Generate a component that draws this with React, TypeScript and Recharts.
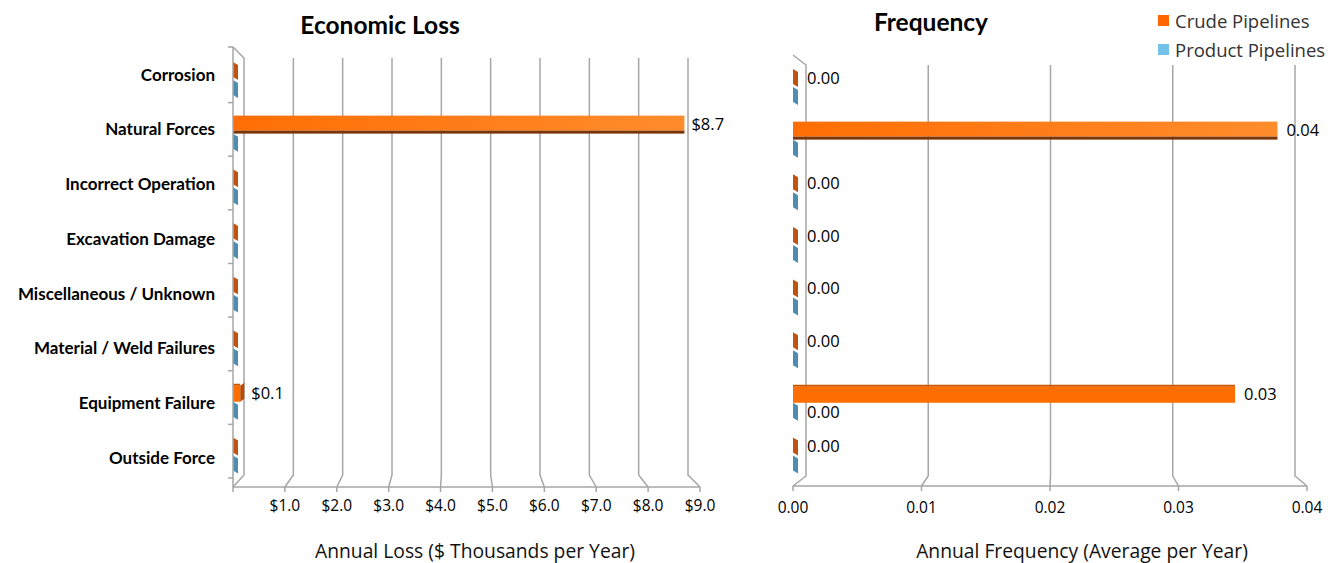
import React from 'react';
import { BarChart, Bar, XAxis, YAxis, CartesianGrid, LabelList } from 'recharts';

const categories = [
  'Corrosion',
  'Natural Forces',
  'Incorrect Operation',
  'Excavation Damage',
  'Miscellaneous / Unknown',
  'Material / Weld Failures',
  'Equipment Failure',
  'Outside Force',
];
const lossCrude = [0, 8.7, 0, 0, 0, 0, 0.14, 0];
const lossProduct = [0, 0, 0, 0, 0, 0, 0, 0];
const freqCrude = [0, 0.0377, 0, 0, 0, 0, 0.0344, 0];
const freqProduct = [0, 0, 0, 0, 0, 0, 0, 0];
const freqProductLabelShown = [false, false, false, false, false, false, true, false];
const lossTicks = [0, 1, 2, 3, 4, 5, 6, 7, 8, 9];
const freqTicks = [0, 0.01, 0.02, 0.03, 0.04];

const BOLD_FONT = 'Lato, "Open Sans", sans-serif';
const FONT = '"Open Sans", "Noto Sans", sans-serif';

const lossData = categories.map((c, i) => ({ category: c, crude: lossCrude[i], product: lossProduct[i] }));
const freqData = categories.map((c, i) => ({
  category: c,
  crude: freqCrude[i],
  product: freqProduct[i],
  showProd: freqProductLabelShown[i],
}));

const GRID = '#A6A6A6';

type G = { left: number; right: number; d0: number; d1: number; topDy: number; botDy: number };
const LG: G = { left: 233, right: 700, d0: 11, d1: -12, topDy: 11, botDy: 12 };
const RG: G = { left: 73, right: 587, d0: 13, d1: -12, topDy: 10, botDy: 10 };

const makeGrid = (g: G) => (props: any) => {
  const x = props.x1;
  const top = props.y1;
  const bottom = props.y2;
  const t = (x - g.left) / (g.right - g.left);
  const off = g.d0 + (g.d1 - g.d0) * t;
  let d = `M${x + off},${top + g.topDy} L${x + off},${bottom - g.botDy} L${x},${bottom}`;
  if (Math.abs(x - g.left) < 1) {
    d = `M${x},${top} L${x + off},${top + g.topDy} L${x + off},${bottom - g.botDy} L${x},${bottom}`;
  }
  return <path key={props.key} d={d} stroke={GRID} strokeWidth={1.5} fill="none" />;
};

const CrudeShape = (props: any) => {
  const { x, y, width, height, index } = props;
  if (width <= 6) {
    const w = 5;
    return (
      <polygon
        points={`${x},${y} ${x + w},${y + 3} ${x + w},${y + height} ${x},${y + height - 3}`}
        fill="#C2530F"
      />
    );
  }
  const upper = index <= 3;
  const id = `cg-${index}-${Math.round(x)}-${Math.round(y)}`;
  return (
    <g>
      <defs>
        <linearGradient id={id} x1="0" y1="0" x2="1" y2="0">
          <stop offset="0%" stopColor="#FF6E05" />
          <stop offset="100%" stopColor="#FF8C2C" />
        </linearGradient>
      </defs>
      {upper ? (
        <>
          <rect x={x} y={y} width={width} height={height - 3} fill={`url(#${id})`} />
          <rect x={x} y={y + height - 3} width={width} height={3} fill="#7A3508" />
        </>
      ) : (
        <>
          <rect x={x} y={y} width={width} height={2} fill="#C95400" />
          <rect x={x} y={y + 2} width={width} height={height - 2} fill="#FF6E00" />
        </>
      )}
      {width < 100 && (
        <polygon
          points={`${x + width},${y + 2} ${x + width + 4},${y - 1} ${x + width + 4},${y + height - 3} ${x + width},${y + height}`}
          fill="#B84A05"
        />
      )}
    </g>
  );
};

const ProductShape = (props: any) => {
  const { x, y, height } = props;
  const w = 5;
  return (
    <polygon
      points={`${x},${y} ${x + w},${y + 3} ${x + w},${y + height} ${x},${y + height - 3}`}
      fill="#4E8DB2"
    />
  );
};

const CategoryTick = (props: any) => {
  const { x, y, payload, index } = props;
  const band = 53.6;
  return (
    <g>
      <text
        x={x - 18}
        y={y - 5 + 1.1 * index}
        dy="0.35em"
        textAnchor="end"
        fontFamily={BOLD_FONT}
        fontSize={17}
        fontWeight={700}
        fill="#000"
      >
        {payload.value}
      </text>
      <line x1={x - 5} x2={x} y1={y + band / 2 - 4} y2={y + band / 2 - 4} stroke={GRID} strokeWidth={1.5} />
      {index === 0 && <line x1={x - 5} x2={x} y1={y - band / 2 - 6} y2={y - band / 2 - 6} stroke={GRID} strokeWidth={1.5} />}
    </g>
  );
};

const LABEL_SIZE = 16.5;

const lossLabel = (props: any) => {
  const { x, y, width, height, value } = props;
  if (!value) return null;
  const extra = width < 100 ? 4 : 0;
  return (
    <text x={x + width + extra + 7} y={y + height / 2} dy="0.35em" fontFamily={FONT} fontSize={LABEL_SIZE} fill="#000">
      {`$${Number(value).toFixed(1)}`}
    </text>
  );
};

const freqCrudeLabel = (props: any) => {
  const { x, y, width, height, value } = props;
  const w = Math.max(width, 5);
  return (
    <text x={x + w + 9} y={y + height / 2} dy="0.35em" fontFamily={FONT} fontSize={LABEL_SIZE} fill="#000">
      {Number(value).toFixed(2)}
    </text>
  );
};

const freqProdLabel = (props: any) => {
  const { x, y, width, height, value, index } = props;
  if (!freqData[index]?.showProd) return null;
  const w = Math.max(width, 5);
  return (
    <text x={x + w + 9} y={y + height / 2} dy="0.35em" fontFamily={FONT} fontSize={LABEL_SIZE} fill="#000">
      {Number(value).toFixed(2)}
    </text>
  );
};

const tickStyle = { fontSize: 15.5, fill: '#000', fontFamily: FONT };

export default function App() {
  return (
    <div style={{ position: 'absolute', left: 0, top: 0, width: 1335, height: 563, background: '#fff', fontFamily: FONT }}>
      <div style={{ position: 'absolute', left: 230, width: 300, top: 9, textAlign: 'center', fontSize: 24.5, fontWeight: 700, lineHeight: '32px', fontFamily: BOLD_FONT }}>
        Economic Loss
      </div>
      <div style={{ position: 'absolute', left: 781, width: 300, top: 6, textAlign: 'center', fontSize: 24.5, fontWeight: 700, lineHeight: '32px', fontFamily: BOLD_FONT }}>
        Frequency
      </div>
      <div style={{ position: 'absolute', left: 225, width: 500, top: 537, textAlign: 'center', fontSize: 19.3, lineHeight: '28px', color: '#111' }}>
        Annual Loss ($ Thousands per Year)
      </div>
      <div style={{ position: 'absolute', left: 832, width: 500, top: 537, textAlign: 'center', fontSize: 19.3, lineHeight: '28px', color: '#111' }}>
        Annual Frequency (Average per Year)
      </div>
      <div style={{ position: 'absolute', left: 1158, top: 6, fontSize: 18.5, color: '#333', lineHeight: '29px', whiteSpace: 'nowrap' }}>
        <div style={{ display: 'flex', alignItems: 'center' }}>
          <span style={{ display: 'inline-block', width: 11, height: 11, background: '#FF6600', marginRight: 6 }} />
          Crude Pipelines
        </div>
        <div style={{ display: 'flex', alignItems: 'center' }}>
          <span style={{ display: 'inline-block', width: 11, height: 11, background: '#74C2EA', marginRight: 6 }} />
          Product Pipelines
        </div>
      </div>

      <div style={{ position: 'absolute', left: 0, top: 0 }}>
        <BarChart
          width={770}
          height={563}
          layout="vertical"
          data={lossData}
          margin={{ top: 47, right: 70, bottom: 46, left: 0 }}
          barGap={0}
          barSize={18}
        >
          <CartesianGrid horizontal={false} vertical={makeGrid(LG)} />
          <XAxis
            type="number"
            domain={[0, 9]}
            ticks={lossTicks}
            interval={0}
            tickFormatter={(v: number) => (v === 0 ? '' : `$${v.toFixed(1)}`)}
            axisLine={{ stroke: GRID, strokeWidth: 1.5 }}
            tickLine={{ stroke: GRID, strokeWidth: 1.5 }}
            tickSize={5}
            tickMargin={8}
            height={30}
            tick={tickStyle}
          />
          <YAxis
            type="category"
            dataKey="category"
            width={233}
            interval={0}
            axisLine={{ stroke: GRID, strokeWidth: 1.5 }}
            tickLine={false}
            tickSize={0}
            tickMargin={0}
            tick={<CategoryTick />}
            padding={{ top: 6, bottom: 5 }}
          />
          <Bar dataKey="crude" shape={<CrudeShape />} minPointSize={5} isAnimationActive={false}>
            <LabelList dataKey="crude" content={lossLabel} />
          </Bar>
          <Bar dataKey="product" shape={<ProductShape />} minPointSize={5} isAnimationActive={false} />
        </BarChart>
      </div>

      <div style={{ position: 'absolute', left: 720, top: 0 }}>
        <BarChart
          width={615}
          height={563}
          layout="vertical"
          data={freqData}
          margin={{ top: 55, right: 28, bottom: 47, left: 73 }}
          barGap={0}
          barSize={18}
        >
          <CartesianGrid horizontal={false} vertical={makeGrid(RG)} />
          <XAxis
            type="number"
            domain={[0, 0.04]}
            ticks={freqTicks}
            interval={0}
            tickFormatter={(v: number) => v.toFixed(2)}
            axisLine={{ stroke: GRID, strokeWidth: 1.5 }}
            tickLine={{ stroke: GRID, strokeWidth: 1.5 }}
            tickSize={5}
            tickMargin={11}
            height={30}
            tick={tickStyle}
          />
          <YAxis
            type="category"
            dataKey="category"
            width={0}
            interval={0}
            axisLine={{ stroke: GRID, strokeWidth: 1.5 }}
            tickLine={false}
            tick={false}
            padding={{ top: 6, bottom: 4 }}
          />
          <Bar dataKey="crude" shape={<CrudeShape />} minPointSize={5} isAnimationActive={false}>
            <LabelList dataKey="crude" content={freqCrudeLabel} />
          </Bar>
          <Bar dataKey="product" shape={<ProductShape />} minPointSize={5} isAnimationActive={false}>
            <LabelList dataKey="product" content={freqProdLabel} />
          </Bar>
        </BarChart>
      </div>
    </div>
  );
}
